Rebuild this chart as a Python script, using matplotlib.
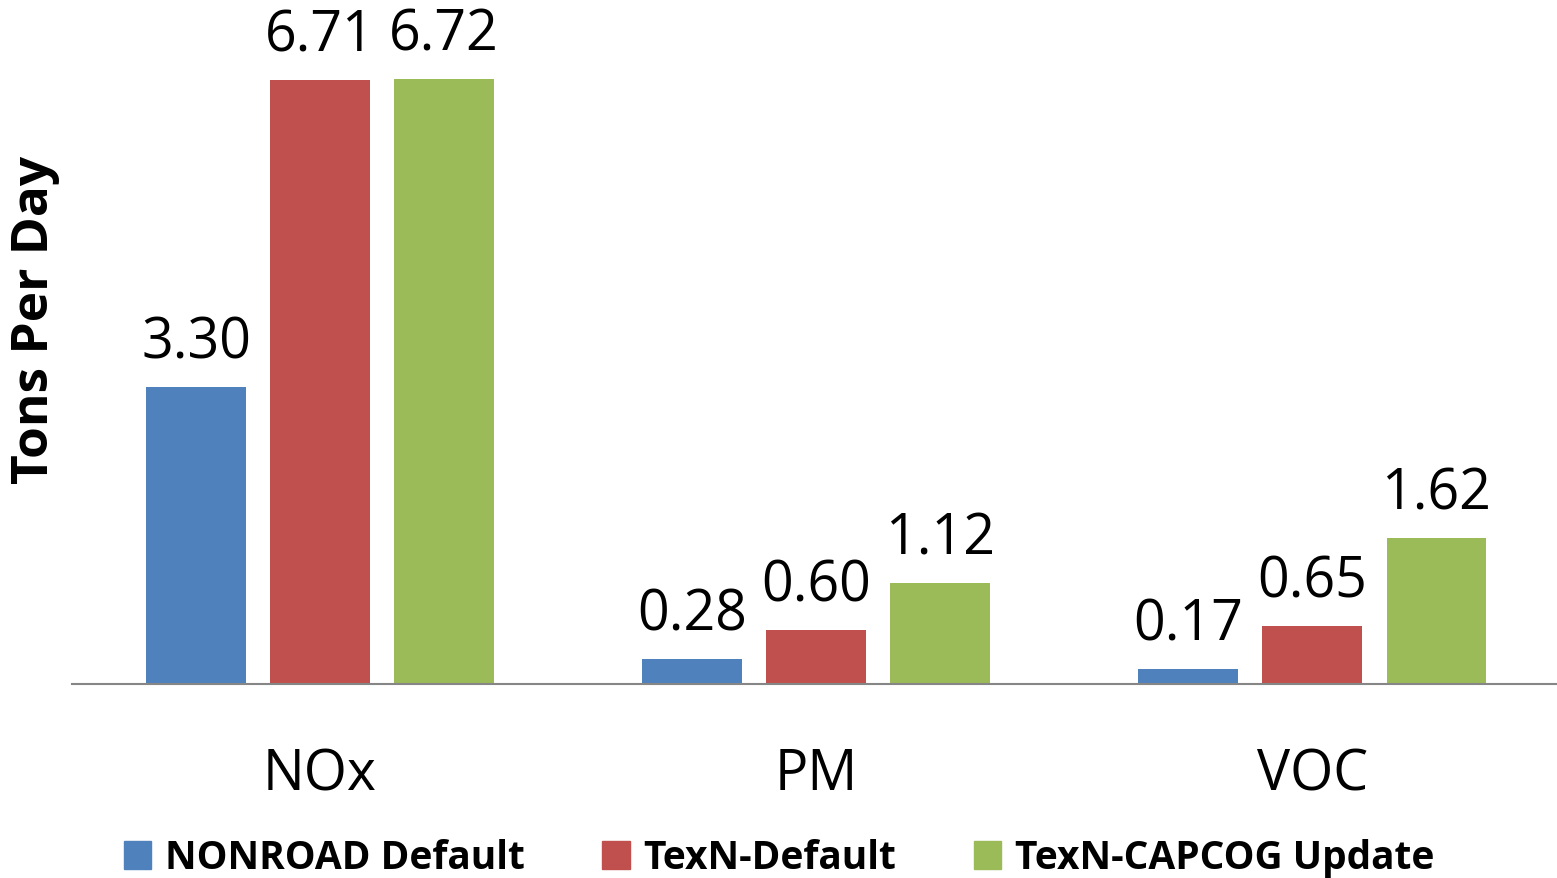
import numpy as np
import matplotlib.pyplot as plt
from matplotlib.patches import Patch

plt.rcParams['font.family'] = ['Open Sans', 'DejaVu Sans']

categories = ['NOx', 'PM', 'VOC']
series_names = ['NONROAD Default', 'TexN-Default', 'TexN-CAPCOG Update']
nonroad_default = [3.30, 0.28, 0.17]
texn_default = [6.71, 0.60, 0.65]
texn_capcog = [6.72, 1.12, 1.62]
colors = ['#4F81BD', '#C0504D', '#9BBB59']

fig = plt.figure(figsize=(15.57, 8.79), dpi=100)
ax = fig.add_axes([72 / 1557, 1 - 685 / 879, 1 - 72 / 1557 + 0.002, 685 / 879])

x = np.arange(len(categories))
width = 0.2
step = 0.25
all_series = [nonroad_default, texn_default, texn_capcog]
for i, (vals, col) in enumerate(zip(all_series, colors)):
    pos = x + (i - 1) * step
    ax.bar(pos, vals, width=width, color=col, zorder=2)
    for p, v in zip(pos, vals):
        ax.text(p, v + 0.17, f'{v:.2f}', ha='center', va='bottom', fontsize=40)

ax.set_xlim(-0.5, 2.5)
ax.set_ylim(0, 685 / 90.0)
ax.set_yticks([])
ax.set_xticks(x)
ax.set_xticklabels(categories, fontsize=40)
ax.tick_params(axis='x', length=0, pad=45)
for s in ['top', 'right', 'left']:
    ax.spines[s].set_visible(False)
ax.spines['bottom'].set_color('#868686')
ax.spines['bottom'].set_linewidth(1.5)

fig.text(35 / 1557, 1 - 320 / 879, 'Tons Per Day', rotation=90, ha='center', va='center',
         fontsize=37, fontweight='bold')

handles = [Patch(color=c) for c in colors]
fig.legend(handles, series_names, loc='center', bbox_to_anchor=(779 / 1557, 1 - 859 / 879),
           ncol=3, frameon=False, prop={'size': 28, 'weight': 'bold'},
           handlelength=0.7, handleheight=0.7, handletextpad=0.35, columnspacing=2.0)

fig.savefig('out.png', dpi=100)
